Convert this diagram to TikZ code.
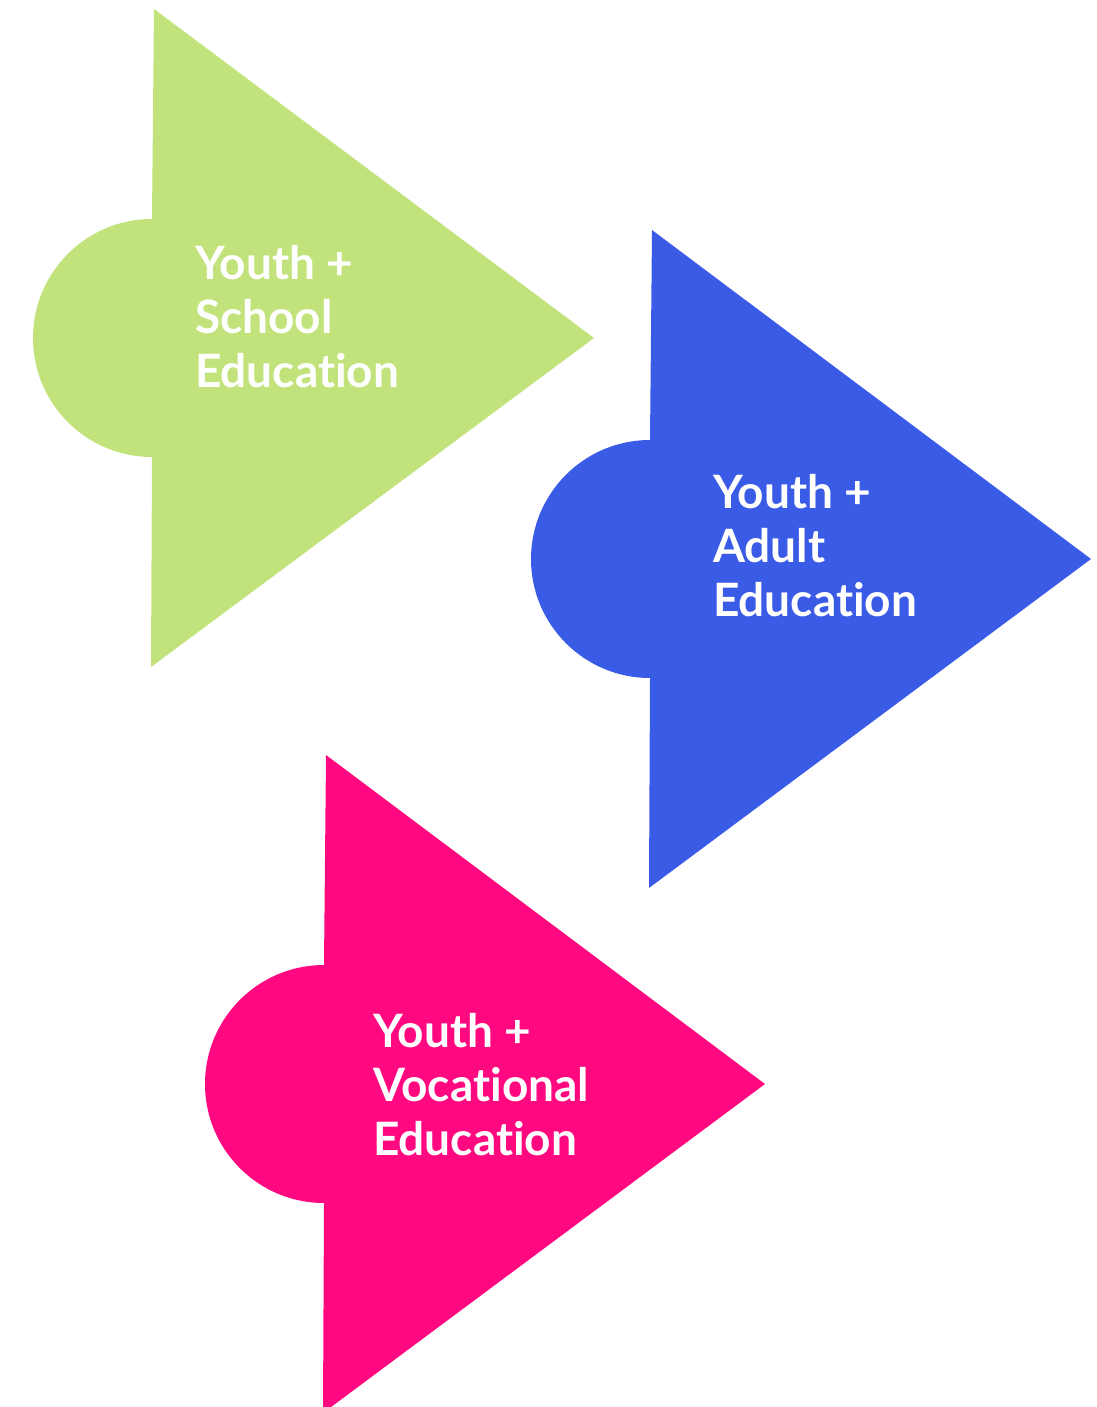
\documentclass[tikz,border=0pt]{standalone}
\usepackage{fontspec}
\setmainfont{Lato}[Ligatures=NoCommon]
\usepackage{xcolor}
\usepackage{tikz}
\definecolor{themegreen}{RGB}{194, 227, 124}
\definecolor{themeblue}{RGB}{58, 91, 230}
\definecolor{themepink}{RGB}{255, 8, 128}
\tikzset{
  label text/.style={anchor=north west, align=left, inner sep=0pt, text=white,
    font=\fontsize{46}{54}\selectfont\bfseries}
}

\begin{document}
\begin{tikzpicture}[x=1pt, y=1pt]
\useasboundingbox (0,0) rectangle (1096,-1407);
\begin{scope}[shift={(152,-338)}]
\fill[themegreen] (2,329) -- (442,0) -- (-1,-329) -- (0,-119)
  arc[start angle=270, end angle=90, radius=119pt] -- cycle;
\end{scope}
\begin{scope}[shift={(650,-559)}]
\fill[themeblue] (2,329) -- (441,0) -- (-1,-329) -- (0,-119)
  arc[start angle=270, end angle=90, radius=119pt] -- cycle;
\end{scope}
\begin{scope}[shift={(324,-1084)}]
\fill[themepink] (2,329) -- (441,0) -- (-1,-329) -- (0,-119)
  arc[start angle=270, end angle=90, radius=119pt] -- cycle;
\end{scope}
\node[label text] (school) at (195,-245) {Youth +\\School\\Education};
\node[label text] (adult) at (713,-474) {Youth +\\Adult\\Education};
\node[label text] (vocational) at (373,-1013) {Youth +\\Vocational\\Education};
\end{tikzpicture}
\end{document}
